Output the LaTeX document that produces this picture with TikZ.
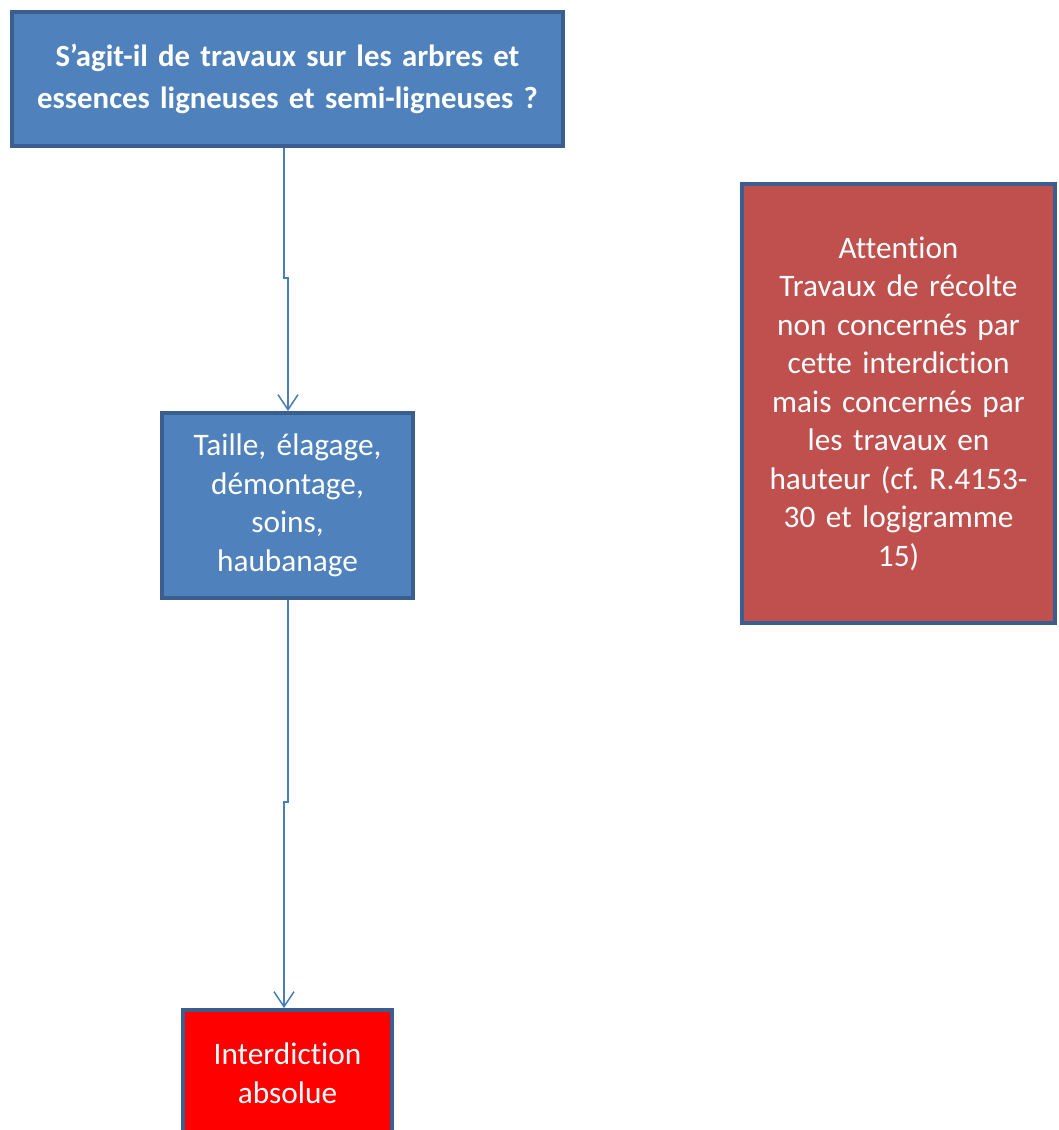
\documentclass[tikz,border=0pt]{standalone}
\usepackage{fontspec}
\setmainfont[Ligatures={NoCommon},WordSpace={0.8}]{Carlito}
\usetikzlibrary{arrows.meta}
\definecolor{bfill}{HTML}{4F81BD}
\definecolor{bline}{HTML}{3A5F8E}
\definecolor{rfill}{HTML}{C0504D}
\definecolor{conncol}{HTML}{4A7EBB}
\tikzset{
  box/.style={draw=bline, line width=4pt, rectangle, anchor=north west, inner sep=0pt,
    text=white, align=center, font=\frenchspacing\fontsize{31.3}{38.5}\selectfont},
  conn/.style={draw=conncol, line width=1.5pt, -{Straight Barb[length=15pt,width=20pt,line width=1.5pt]}}
}
\begin{document}
\begin{tikzpicture}[x=1pt,y=-1pt]
\useasboundingbox (0,0) rectangle (1058,1130);
\clip (0,0) rectangle (1058,1130);
\node[box, fill=bfill, minimum width=551pt, minimum height=134pt, text width=540pt,
  font=\frenchspacing\bfseries\fontsize{30.8}{42}\selectfont] (q) at (10,10)
  {S’agit-il de travaux sur les arbres et\\essences ligneuses et semi-ligneuses ?};
\node[box, fill=bfill, minimum width=251pt, minimum height=185pt, text width=240pt] (t) at (160,411)
  {Taille, élagage,\\démontage,\\soins,\\haubanage};
\node[box, fill=red, minimum width=209pt, minimum height=126pt, text width=200pt] (i) at (181,1008)
  {Interdiction\\absolue};
\node[box, fill=rfill, minimum width=313pt, minimum height=439pt, text width=300pt] (a) at (740,182)
  {Attention\\Travaux de récolte\\non concernés par\\cette interdiction\\mais concernés par\\les travaux en\\hauteur (cf. R.4153-\\30 et logigramme\\15)};
\coordinate (j1a) at (284,278);
\coordinate (j1b) at (288,278);
\coordinate (j2a) at (288,802);
\coordinate (j2b) at (284,802);
\draw[conn] (q.south -| j1a) -- (j1a) -- (j1b) -- (t.north -| j1b);
\draw[conn] (t.south -| j2a) -- (j2a) -- (j2b) -- (i.north -| j2b);
\end{tikzpicture}
\end{document}
